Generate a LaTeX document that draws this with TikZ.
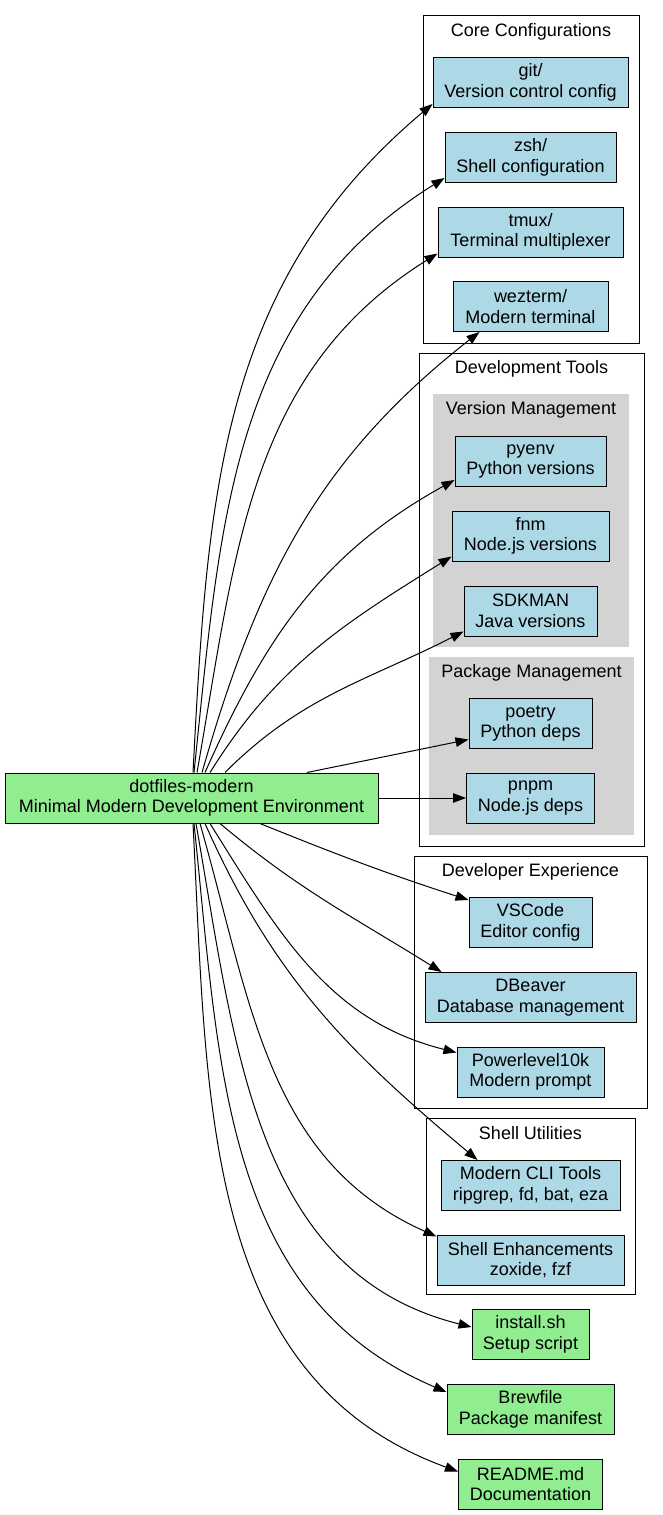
\documentclass[tikz,border=0pt]{standalone}
\usepackage{fontspec}
\setmainfont{Liberation Sans}
\usetikzlibrary{arrows.meta}
\definecolor{lightblue}{HTML}{ADD8E6}
\definecolor{lightgreen}{HTML}{90EE90}
\definecolor{lightgrey}{HTML}{D3D3D3}
\tikzset{
  box/.style={draw=black, line width=1pt, minimum height=50pt, inner xsep=4pt,
    align=center, font=\fontsize{18}{20.5}\selectfont},
  bluebox/.style={box, fill=lightblue},
  greenbox/.style={box, fill=lightgreen},
  clusterbox/.style={draw=black, line width=1pt},
  greyzone/.style={fill=lightgrey},
  clustertitle/.style={anchor=base, inner sep=0pt, font=\fontsize{18}{20.5}\selectfont},
  link/.style={line width=1pt, -{Triangle[length=13pt,width=9.5pt]}},
}
\begin{document}
\begin{tikzpicture}[x=1pt,y=1pt]
\useasboundingbox (0,0) rectangle (663,-1515);

% Cluster Core Configurations
\draw [clusterbox] (423,-15) rectangle (639,-343);
\node [clustertitle] (tcore) at (531,-36) {Core Configurations};

% Cluster Development Tools
\draw [clusterbox] (419,-353) rectangle (644,-846);
\node [clustertitle] (tdev) at (531.5,-373) {Development Tools};
\fill [greyzone] (433,-394) rectangle (629,-647);
\node [clustertitle] (tversion) at (531,-414) {Version Management};
\fill [greyzone] (429,-657) rectangle (634,-835);
\node [clustertitle] (tpackage) at (531.5,-677) {Package Management};

% Cluster Developer Experience
\draw [clusterbox] (414,-856) rectangle (647,-1108);
\node [clustertitle] (texp) at (530.5,-876) {Developer Experience};

% Cluster Shell Utilities
\draw [clusterbox] (426,-1118) rectangle (635,-1294);
\node [clustertitle] (tshell) at (530.5,-1139) {Shell Utilities};

% Root node
\node [greenbox, minimum width=373] (main) at (191.5,-798) {dotfiles-modern\\Minimal Modern Development Environment};

% Core configuration nodes
\node [bluebox, minimum width=195] (git) at (530.5,-82.5) {git/\\Version control config};
\node [bluebox, minimum width=171] (zsh) at (530.5,-157.5) {zsh/\\Shell configuration};
\node [bluebox, minimum width=185] (tmux) at (530.5,-232) {tmux/\\Terminal multiplexer};
\node [bluebox, minimum width=155] (wezterm) at (530.5,-306.5) {wezterm/\\Modern terminal};

% Development tool nodes
\node [bluebox, minimum width=151] (pyenv) at (530.5,-461.5) {pyenv\\Python versions};
\node [bluebox, minimum width=157] (fnm) at (530.5,-536) {fnm\\Node.js versions};
\node [bluebox, minimum width=133] (sdkman) at (530.5,-611) {SDKMAN\\Java versions};
\node [bluebox, minimum width=123] (poetry) at (530.5,-723.5) {poetry\\Python deps};
\node [bluebox, minimum width=128] (pnpm) at (530.5,-798) {pnpm\\Node.js deps};

% Developer experience nodes
\node [bluebox, minimum width=123] (vscode) at (530.5,-922.5) {VSCode\\Editor config};
\node [bluebox, minimum width=211] (dbeaver) at (530.5,-997.5) {DBeaver\\Database management};
\node [bluebox, minimum width=147] (plk) at (530.5,-1072) {Powerlevel10k\\Modern prompt};

% Shell utility nodes
\node [bluebox, minimum width=179] (clitools) at (530.5,-1185.5) {Modern CLI Tools\\ripgrep, fd, bat, eza};
\node [bluebox, minimum width=187] (shellenh) at (530.5,-1260) {Shell Enhancements\\zoxide, fzf};

% Top level files
\node [greenbox, minimum width=117] (install) at (530.5,-1334.5) {install.sh\\Setup script};
\node [greenbox, minimum width=167] (brewfile) at (530.5,-1409.5) {Brewfile\\Package manifest};
\node [greenbox, minimum width=144] (readme) at (530.5,-1484) {README.md\\Documentation};

% Edges upwards
\draw [link] ([xshift=1.5]main.north) to[out=87,in=220] ([yshift=4]git.south west);
\draw [link] ([xshift=2.5]main.north) to[out=84,in=212] ([yshift=5]zsh.south west);
\draw [link] ([xshift=5.5]main.north) to[out=80,in=212] ([yshift=4]tmux.south west);
\draw [link] ([xshift=10.5]main.north) to[out=74,in=218] ([xshift=27]wezterm.south west);
\draw [link] ([xshift=13.5]main.north) to[out=66,in=209] ([yshift=7]pyenv.south west);
\draw [link] ([xshift=18.5]main.north) to[out=58,in=212] ([yshift=5]fnm.south west);
\draw [link] ([xshift=33.5]main.north) to[out=45,in=207] ([yshift=5]sdkman.south west);
\draw [link] ([xshift=115.5]main.north) -- ([yshift=-16]poetry.west);
\draw [link] (main.east) -- (pnpm.west);

% Edges downwards
\draw [link] ([xshift=68.5]main.south) to[out=-22,in=162] ([yshift=-3]vscode.north west);
\draw [link] ([xshift=28.5]main.south) to[out=-40,in=148] ([xshift=17]dbeaver.north west);
\draw [link] ([xshift=18.5]main.south) to[out=-58,in=166] ([yshift=-6]plk.north west);
\draw [link] ([xshift=13.5]main.south) to[out=-66,in=140] ([xshift=37]clitools.north west);
\draw [link] ([xshift=8.5]main.south) to[out=-74,in=156] ([yshift=-2]shellenh.north west);
\draw [link] ([xshift=4.5]main.south) to[out=-80,in=166] ([yshift=-18]install.north west);
\draw [link] ([xshift=2.5]main.south) to[out=-84,in=157] ([yshift=-8]brewfile.north west);
\draw [link] ([xshift=1.5]main.south) to[out=-87,in=160] ([yshift=-13]readme.north west);
\end{tikzpicture}
\end{document}
